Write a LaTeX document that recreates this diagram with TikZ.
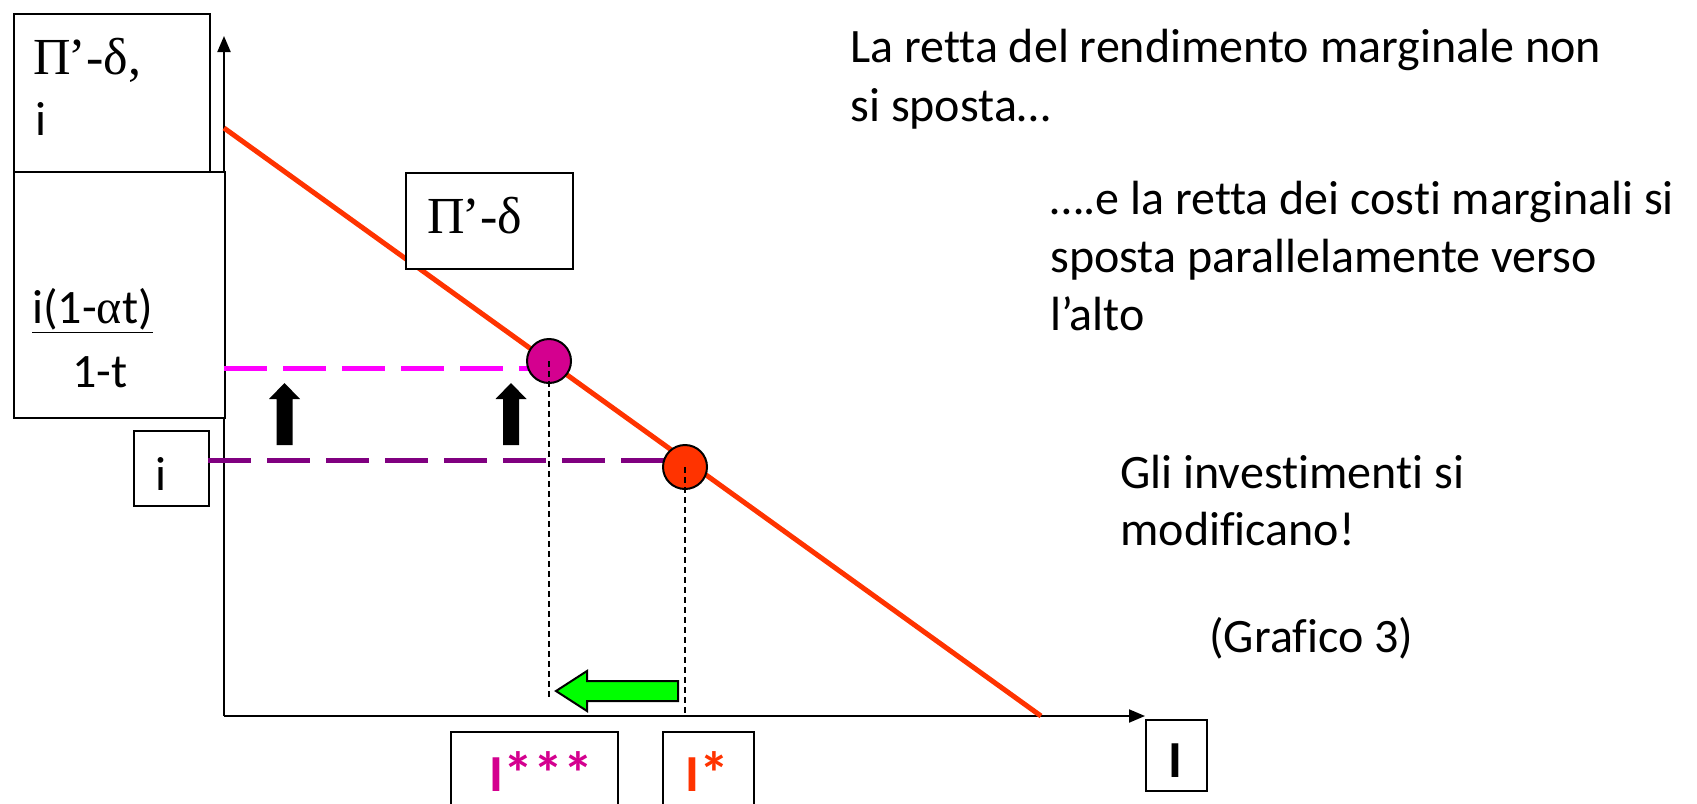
\documentclass[tikz,border=0pt]{standalone}
\usepackage{fontspec}
\setmainfont{Carlito}[RawFeature={-liga;-clig;-dlig;-calt}]
\newfontfamily\grfont{Liberation Serif}
\usetikzlibrary{arrows.meta}
\definecolor{redline}{HTML}{FF3300}
\definecolor{magdash}{HTML}{FF00FF}
\definecolor{purpdash}{HTML}{800080}
\definecolor{magdot}{HTML}{D4008F}
\definecolor{greenarr}{HTML}{00FF00}
\newcommand{\stars}[1]{\raisebox{-1.5pt}[\height][0pt]{\fontsize{30}{30}\selectfont #1}}
\newcommand{\nl}{\kern0pt}
\begin{document}
\begin{tikzpicture}[x=0.5pt,y=-0.5pt,
  box/.style={draw=black, fill=white, line width=1pt, inner sep=0pt, anchor=north west},
  txt/.style={inner sep=0pt, anchor=base west, font=\fontsize{24}{29}\selectfont},
  grtxt/.style={inner sep=0pt, anchor=base west, font=\fontsize{26}{31}\grfont},
  boldtxt/.style={inner sep=0pt, anchor=base west, font=\fontsize{26}{31}\selectfont\bfseries},
  axis/.style={draw=black, line width=1pt, -{Triangle[length=8pt,width=6.5pt]}},
  dashm/.style={draw=magdash, line width=2.5pt, dash pattern=on 21.5pt off 8pt},
  dashp/.style={draw=purpdash, line width=2.5pt, dash pattern=on 21.5pt off 8pt},
  dots/.style={draw=black, line width=0.7pt, dash pattern=on 3pt off 2pt},
  dot/.style={circle, draw=black, line width=1pt, minimum size=22pt, inner sep=0pt},
  uparrow/.pic={\fill[black] (-8,0) -- (-8,-46) -- (-15.5,-46) -- (0,-62) -- (15.5,-46) -- (8,-46) -- (8,0) -- cycle;}
]
\useasboundingbox (0,0) rectangle (1697,803);
% axes
\coordinate (O) at (224,716);
\coordinate (ytop) at (224,36);
\coordinate (xend) at (1145,716);
\draw[axis] (O) -- (ytop);
\draw[axis] (O) -- (xend);
% marginal return line
\coordinate (r1) at (224,128);
\coordinate (r2) at (1041,716);
\draw[redline, line width=2.5pt] (r1) -- (r2);
% boxes
\node[box, minimum width=98pt, minimum height=79pt] (b1) at (13,13) {};
\node[grtxt] (t1a) at (33,74) {Π\kern-1pt’-δ,};
\node[txt] (t1b) at (35,135) {i};
\node[box, minimum width=105.5pt, minimum height=123pt] (b2) at (13,171) {};
\node[txt] (t2a) at (32,323) {\underline{i(1-{\grfont α}t)}};
\node[txt] (t2b) at (72,387) {1-t};
\node[box, minimum width=37.5pt, minimum height=37.5pt] (bi) at (133,430) {};
\node[txt] (ti) at (155,490) {i};
\node[box, minimum width=83.5pt, minimum height=48pt] (bpd) at (405,172) {};
\node[grtxt] (tpd) at (427,233) {Π\kern-1pt’-δ};
% dashed levels
\coordinate (pm) at (549,361);
\coordinate (pr) at (685,467);
\coordinate (ym) at (224,368);
\coordinate (yi) at (208,460);
\draw[dashm] (ym) -- (ym -| pm);
\draw[dashp] (yi) -- (yi -| pr);
% circles
\node[dot, fill=magdot] (cm) at (pm) {};
\node[dot, fill=redline] (cr) at (pr) {};
\coordinate (dm) at (549,700);
\draw[dots] (cm.center) -- (dm);
\draw[dots] (cr.center) -- (cr.center |- O);
% up arrows
\pic at (284.5,445) {uparrow};
\pic at (511,445) {uparrow};
% green arrow
\draw[fill=greenarr, line width=1pt, line join=miter] (678,681) -- (587,681) -- (587,671) -- (556,691) -- (587,711) -- (587,701) -- (678,701) -- cycle;
% axis label boxes
\node[box, minimum width=83.5pt, minimum height=45pt] (bs3) at (450,731) {};
\node[boldtxt, text=magdot] (ts3) at (489,791) {I\stars{***}};
\node[box, minimum width=45.5pt, minimum height=45pt] (bs1) at (662,731) {};
\node[boldtxt, text=redline] (ts1) at (685,791) {I\stars{*}};
\node[box, minimum width=30.5pt, minimum height=35.5pt] (bI) at (1145,719) {};
\node[boldtxt] (tI) at (1168,777) {I};
% right texts
\node[txt] (p1a) at (850,62) {La retta del rendimento marginale non};
\node[txt] (p1b) at (850,121) {si sposta…};
\node[txt] (p2a) at (1050,214) {….e la retta dei cost\nl i marginali si};
\node[txt] (p2b) at (1050,272) {sposta parallelamente verso};
\node[txt] (p2c) at (1050,330) {l’alto};
\node[txt] (p3a) at (1120,488) {Gli investiment\nl i si};
\node[txt] (p3b) at (1120,545) {modif\nl icano!};
\node[txt] (p3c) at (1209,652) {(Graf\nl ico 3)};
\end{tikzpicture}
\end{document}
